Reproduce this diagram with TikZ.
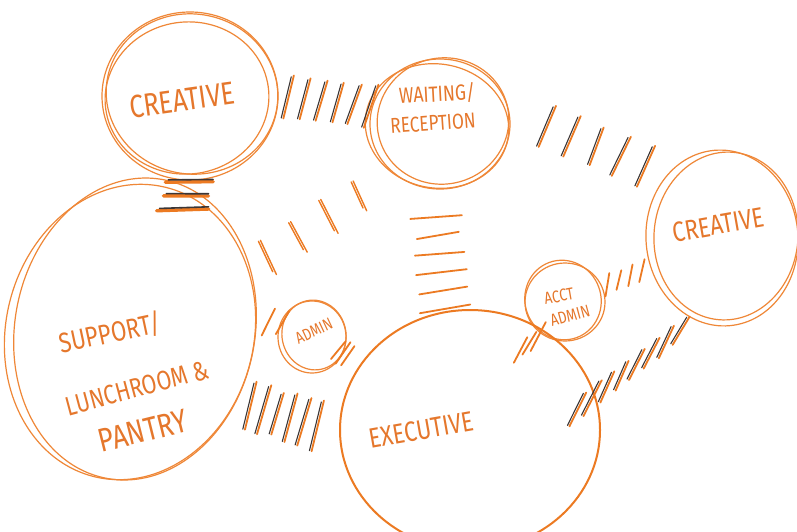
\documentclass[tikz,border=0pt]{standalone}
\usepackage{fontspec}
\setmainfont{Fira Sans}[FakeStretch=0.8]
\usetikzlibrary{calc,shapes.geometric}
\definecolor{orng}{HTML}{EC7A22}
\definecolor{ringc}{HTML}{EF8737}
\definecolor{txtc}{HTML}{E5772C}
\definecolor{darkc}{HTML}{3B3636}

% #1 style prefix, #2 from, #3 to, #4 t0, #5 t1, #6 n, #7 offset, #8 half length, #9 angle
\newcommand{\hatchrow}[9]{%
  \foreach \k in {1,...,#6}{%
    \pgfmathsetmacro{\hT}{#4+(#5-#4)*(\k-1)/max(#6-1,1)}%
    \pgfmathsetmacro{\hA}{#9+5*rand}%
    \pgfmathsetmacro{\hB}{\hA+90}%
    \pgfmathsetmacro{\hL}{#8*(0.92+0.12*rand)}%
    \coordinate (hm) at ($(#2)!\hT!(#3)$);
    \coordinate (hc) at ($(hm)!#7pt!90:(#3)$);
    \coordinate (hp) at ($(hc)+(\hA:\hL pt)$);
    \coordinate (hq) at ($(hc)-(\hA:\hL pt)$);
    \draw[#1a] (hp) -- (hq);
    \draw[#1b] ($(hp)+(\hB:2.2pt)$) -- ($(hq)+(\hB:2.2pt)$);
  }%
}
\newcommand{\fs}[1]{\fontsize{#1}{#1}\selectfont}

\begin{document}
\begin{tikzpicture}[x=1pt,y=-1pt,
  bubble/.style={ellipse, draw=none, inner sep=0pt},
  ringline/.style={draw=ringc, line width=1.2pt},
  lbl/.style={text=txtc, inner sep=0pt},
  ora/.style={draw=orng, line width=1.8pt, line cap=round},
  orb/.style={draw=none},
  dua/.style={draw=orng, line width=1.8pt, line cap=round},
  dub/.style={draw=darkc, line width=1.1pt, line cap=round, shorten <=2pt},
  mka/.style={draw=orng, line width=3.4pt, line cap=round},
  mkb/.style={draw=darkc, line width=1.6pt, line cap=round, shorten >=3pt},
  lpa/.style={draw=orng, line width=1.4pt, line cap=round},
  lpb/.style={draw=orng, line width=1.4pt, line cap=round, shorten >=4pt}]
\pgfmathsetseed{11}
\useasboundingbox (0,0) rectangle (797,531);
\fill[white] (0,0) rectangle (797,531);

% bubbles (named nodes)
\node[bubble, minimum width=176pt, minimum height=166pt] (cA) at (190,96) {};
\node[bubble, minimum width=140pt, minimum height=130pt] (wR) at (440,124) {};
\node[bubble, minimum width=152pt, minimum height=176pt] (cB) at (722,238) {};
\node[bubble, minimum width=240pt, minimum height=304pt, rotate=-11] (sp) at (135,329) {};
\node[bubble, minimum width=68pt, minimum height=72pt] (ad) at (312,337) {};
\node[bubble, minimum width=80pt, minimum height=78pt] (aa) at (565,302) {};
\node[bubble, minimum width=260pt, minimum height=240pt] (ex) at (470,430) {};

% sketchy rings
\draw[ringline] (cA.center) ellipse [x radius=88pt, y radius=84pt];
\draw[ringline] ([shift={(-3,2)}]cA.center) ellipse [x radius=82pt, y radius=76pt, rotate=8];
\draw[ringline] ([shift={(2,-2)}]cA.center) ellipse [x radius=86pt, y radius=80pt, rotate=-10];

\draw[ringline] (wR.center) ellipse [x radius=70pt, y radius=65pt];
\draw[ringline] ([shift={(3,-3)}]wR.center) ellipse [x radius=66pt, y radius=63pt, rotate=15];
\draw[ringline] ([shift={(-3,2)}]wR.center) ellipse [x radius=72pt, y radius=62pt, rotate=-10];

\draw[ringline] (cB.center) ellipse [x radius=76pt, y radius=88pt, rotate=5];
\draw[ringline] ([shift={(4,-2)}]cB.center) ellipse [x radius=72pt, y radius=84pt, rotate=-5];

\draw[ringline] (sp.center) ellipse [x radius=120pt, y radius=152pt, rotate=-11];
\draw[ringline] ([shift={(-5,3)}]sp.center) ellipse [x radius=124pt, y radius=149pt, rotate=-14];

\draw[ringline] (ad.center) ellipse [x radius=34pt, y radius=36pt];
\draw[ringline] ([shift={(2,-2)}]ad.center) ellipse [x radius=32pt, y radius=35pt, rotate=12];

\draw[ringline] (aa.center) ellipse [x radius=40pt, y radius=39pt];
\draw[ringline] ([shift={(-2,-2)}]aa.center) ellipse [x radius=38pt, y radius=40pt, rotate=20];

\draw[draw=orng, line width=2pt] (ex.center) ellipse [x radius=130pt, y radius=120pt];

% hatched connectors
\hatchrow{du}{cA}{wR}{0.39}{0.72}{6}{10}{24}{73}
\hatchrow{du}{wR}{cB}{0.33}{0.68}{5}{38}{22}{65}
\hatchrow{mk}{cA}{sp}{0.35}{0.47}{3}{19}{27}{-3}
\hatchrow{lp}{wR}{sp}{0.29}{0.59}{4}{15}{20}{114}
\hatchrow{or}{wR}{ex}{0.30}{0.60}{6}{-13}{26}{8}
\hatchrow{or}{sp}{ad}{0.75}{0.83}{2}{13}{16}{59}
\hatchrow{or}{ad}{ex}{0.16}{0.22}{3}{2}{13}{52}
\hatchrow{du}{sp}{ex}{0.38}{0.58}{6}{-40}{26}{72}
\hatchrow{or}{aa}{cB}{0.27}{0.49}{4}{0}{12}{78}
\hatchrow{or}{ex}{cB}{0.28}{0.35}{3}{33}{16}{62}
\hatchrow{du}{ex}{cB}{0.31}{0.72}{8}{-49}{20}{62}

% labels
\node[lbl, rotate=8, font=\fs{32}] (tA) at (182,100) {CREATIVE};
\node[lbl, rotate=3, font=\fs{22}] (tW1) at (437,94) {WAITING/};
\node[lbl, rotate=4, font=\fs{21.5}] (tW2) at (433,123) {RECEPTION};
\node[lbl, rotate=10, font=\fs{28}] (tB) at (718,225) {CREATIVE};
\node[lbl, rotate=12, font=\fs{28}] (tS1) at (110,333) {SUPPORT/};
\node[lbl, rotate=15, font=\fs{27}] (tS2) at (137,388) {LUNCHROOM \&};
\node[lbl, rotate=14, font=\fs{33}] (tS3) at (143,431) {PANTRY};
\node[lbl, rotate=25, font=\fs{16.5}] (tD) at (314,331) {ADMIN};
\node[lbl, rotate=10, font=\fs{17}] (tC1) at (559,296) {ACCT};
\node[lbl, rotate=15, font=\fs{17}] (tC2) at (570,316) {ADMIN};
\node[lbl, rotate=10, font=\fs{28}] (tE) at (421,430) {EXECUTIVE};
\end{tikzpicture}
\end{document}
